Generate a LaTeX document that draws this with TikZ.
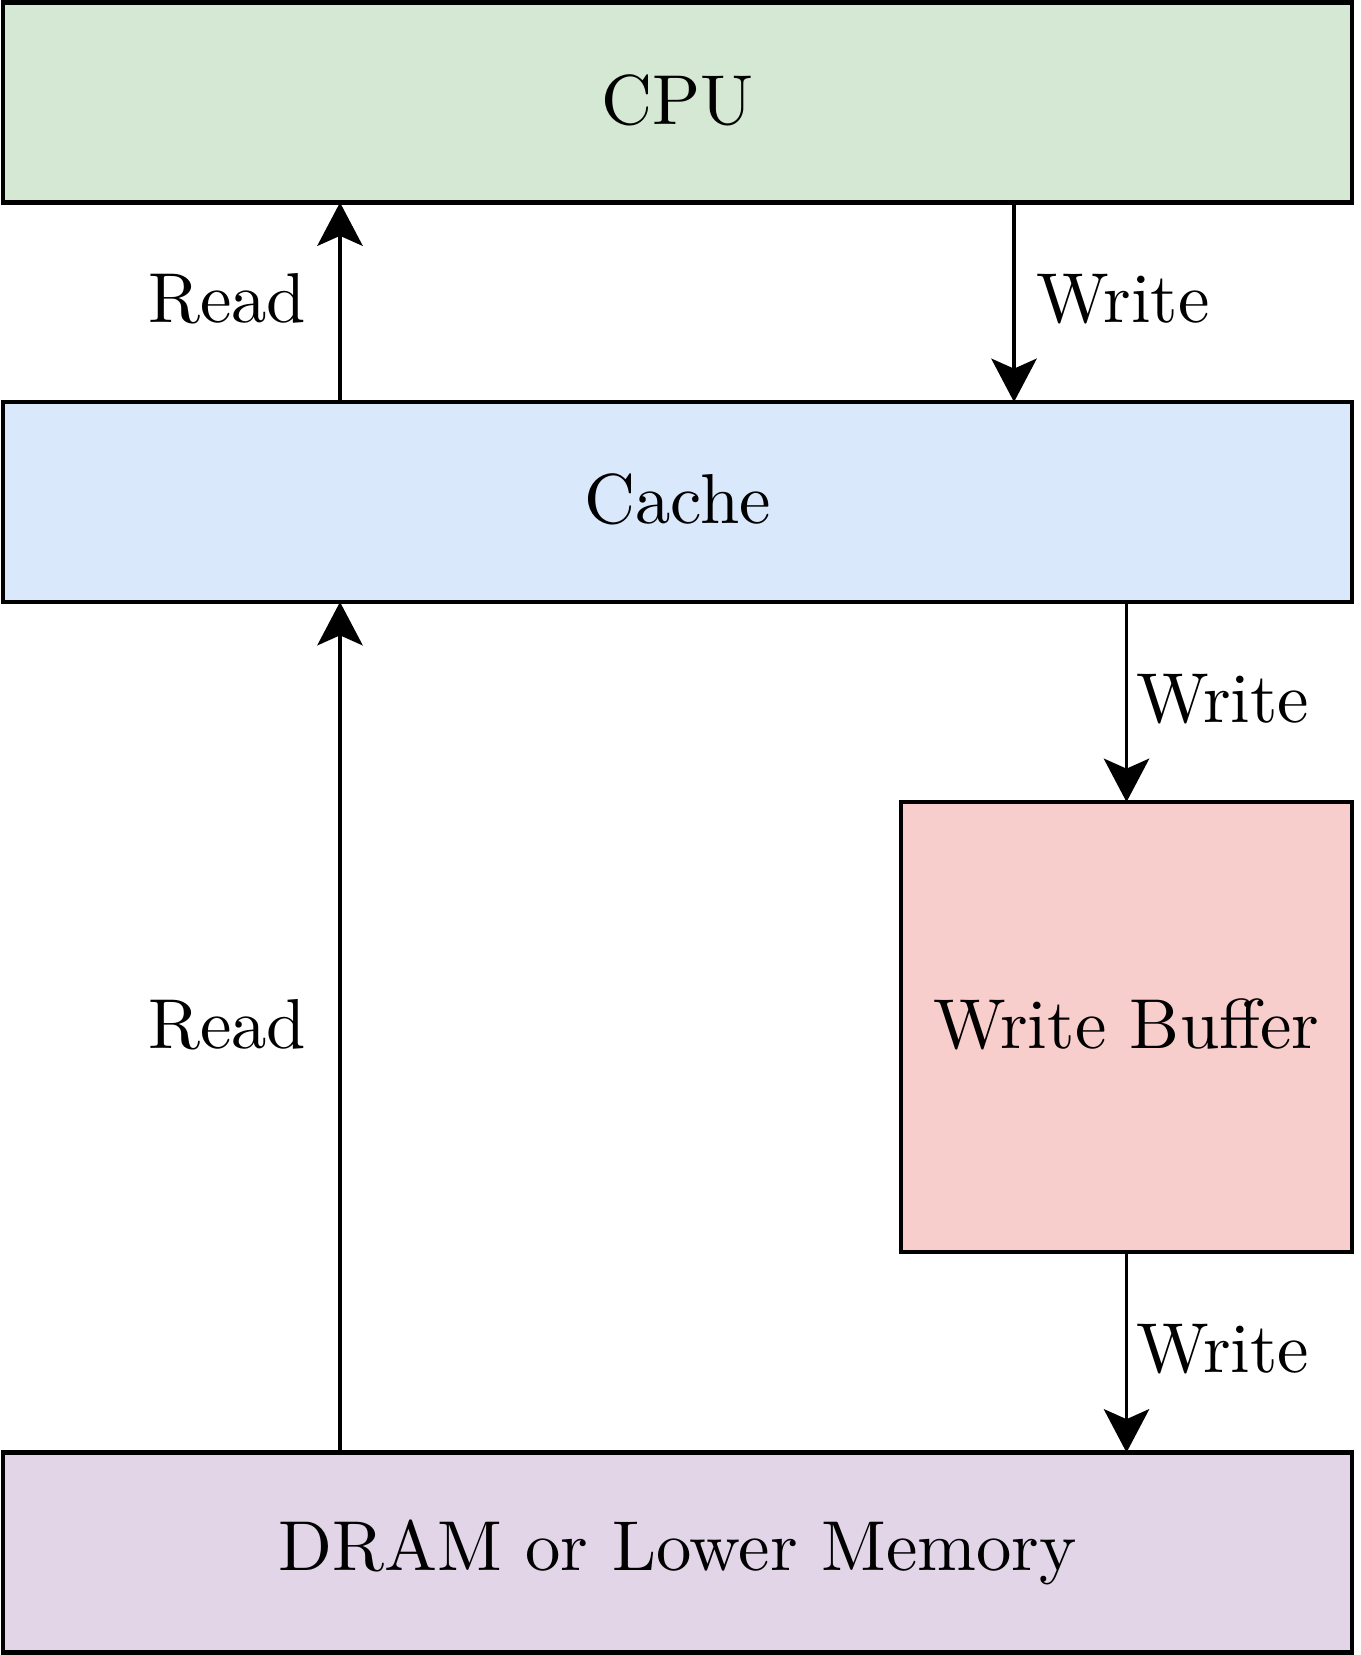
\documentclass[tikz,border=0pt]{standalone}
\usepackage{fontspec}
\setmainfont{Latin Modern Roman}
\usetikzlibrary{arrows.meta}
\definecolor{cpugreen}{HTML}{D5E8D4}
\definecolor{cacheblue}{HTML}{DAE8FC}
\definecolor{bufred}{HTML}{F8CECC}
\definecolor{drampurple}{HTML}{E1D5E7}
\begin{document}
\begin{tikzpicture}[x=0.15pt,y=0.15pt,yscale=-1,xscale=1,
        font=\fontsize{10.6}{12.5}\selectfont,
        blk/.style={draw=black, line width=0.62pt, inner sep=0pt, outer sep=0pt, text depth=0.9pt, minimum width=1349*0.15pt, minimum height=200*0.15pt},
        arr/.style={-{Stealth[length=6.5pt,width=6.8pt,inset=1.5pt]}, line width=0.55pt},
        lbl/.style={inner sep=0pt, yshift=0.45pt}]
            \useasboundingbox (0, 0) rectangle (1360, 1655);
            %boxes
            \node[blk, fill=cpugreen] (cpu) at (677.5, 102.5) {CPU};
            \node[blk, fill=cacheblue] (cache) at (677.5, 502) {Cache};
            \node[blk, fill=bufred, minimum width=451*0.15pt, minimum height=450*0.15pt] (wbuf) at (1126.5, 1027) {Write Buffer};
            \node[blk, fill=drampurple, text depth=2.1pt] (dram) at (677.5, 1552.5) {DRAM or Lower Memory};
            %
            %columns of the arrows
            \coordinate (rd) at (340, 0);
            \coordinate (wr) at (1014, 0);
            %read path
            \draw[arr] (cache.north -| rd) -- node[lbl, left=4.8pt] {Read} (cpu.south -| rd);
            \draw[arr] (dram.north -| rd) -- node[lbl, left=4.8pt] {Read} (cache.south -| rd);
            %write path
            \draw[arr] (cpu.south -| wr) -- node[lbl, right=3.1pt] {Write} (cache.north -| wr);
            \draw[arr] (cache.south -| wbuf.north) -- node[lbl, right=1.2pt] {Write} (wbuf.north);
            \draw[arr] (wbuf.south) -- node[lbl, right=1.2pt] {Write} (dram.north -| wbuf.south);
            %
        \end{tikzpicture}
\end{document}
